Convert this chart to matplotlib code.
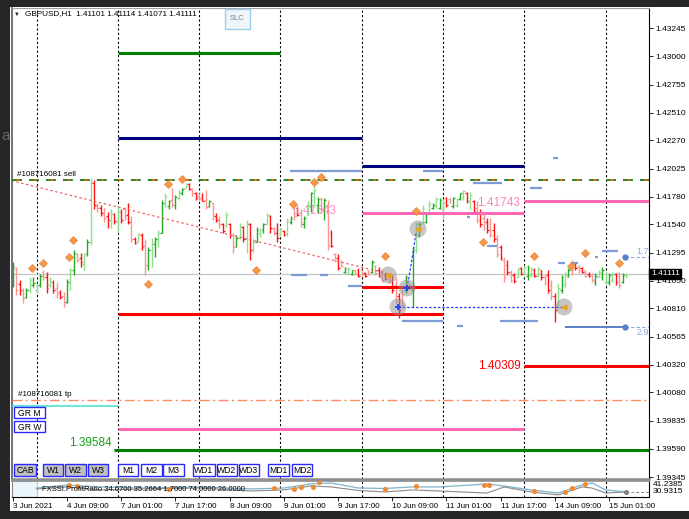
import numpy as np
import pandas as pd
import matplotlib
matplotlib.use('Agg')
import matplotlib.pyplot as plt
from matplotlib.patches import Rectangle

plt.rcParams['font.family'] = ['Liberation Sans', 'DejaVu Sans']

# GBPUSD H1 bars, 3 Jun 2021 17:00 .. 15 Jun 2021 06:00
opens = [1.4101, 1.4116, 1.4102, 1.4097, 1.4091, 1.4097, 1.4101, 1.4097, 1.4101, 1.4113,
         1.4108, 1.4101, 1.4104, 1.4099, 1.4095, 1.4092, 1.4087, 1.4103, 1.4114, 1.4128,
         1.4125, 1.4120, 1.4128, 1.4139, 1.4190, 1.4170, 1.4168, 1.4165, 1.4161, 1.4158,
         1.4163, 1.4156, 1.4165, 1.4167, 1.4162, 1.4156, 1.4141, 1.4139, 1.4145, 1.4135,
         1.4119, 1.4132, 1.4137, 1.4140, 1.4147, 1.4172, 1.4170, 1.4175, 1.4171, 1.4177,
         1.4181, 1.4186, 1.4189, 1.4185, 1.4181, 1.4179, 1.4178, 1.4175, 1.4170, 1.4173,
         1.4161, 1.4158, 1.4154, 1.4153, 1.4154, 1.4145, 1.4135, 1.4142, 1.4152, 1.4141,
         1.4154, 1.4132, 1.4139, 1.4147, 1.4149, 1.4154, 1.4161, 1.4151, 1.4147, 1.4146,
         1.4148, 1.4146, 1.4156, 1.4168, 1.4168, 1.4164, 1.4154, 1.4162, 1.4170, 1.4179,
         1.4171, 1.4176, 1.4167, 1.4171, 1.4147, 1.4128, 1.4125, 1.4122, 1.4113, 1.4112,
         1.4111, 1.4114, 1.4114, 1.4114, 1.4112, 1.4114, 1.4113, 1.4118, 1.4114, 1.4113,
         1.4110, 1.4108, 1.4106, 1.4101, 1.4092, 1.4088, 1.4097, 1.4098, 1.4097, 1.4132,
         1.4145, 1.4156, 1.4156, 1.4167, 1.4168, 1.4170, 1.4168, 1.4167, 1.4177, 1.4176,
         1.4170, 1.4171, 1.4176, 1.4177, 1.4181, 1.4174, 1.4174, 1.4168, 1.4165, 1.4160,
         1.4156, 1.4154, 1.4149, 1.4142, 1.4134, 1.4123, 1.4119, 1.4113, 1.4110, 1.4108,
         1.4116, 1.4111, 1.4109, 1.4110, 1.4114, 1.4109, 1.4114, 1.4108, 1.4110, 1.4101,
         1.4092, 1.4084, 1.4097, 1.4102, 1.4109, 1.4121, 1.4119, 1.4117, 1.4116, 1.4114,
         1.4111, 1.4110, 1.4104, 1.4108, 1.4108, 1.4104, 1.4104, 1.4106, 1.4111, 1.4109,
         1.4104, 1.41101]
highs = [1.4121, 1.4117, 1.4106, 1.4099, 1.4099, 1.4108, 1.4108, 1.4103, 1.4111, 1.4114,
         1.4113, 1.4108, 1.4106, 1.4104, 1.4097, 1.4095, 1.4107, 1.4116, 1.4132, 1.4129,
         1.4129, 1.4129, 1.4141, 1.4194, 1.4193, 1.4173, 1.4171, 1.4168, 1.4165, 1.4167,
         1.4164, 1.4171, 1.4167, 1.4169, 1.4173, 1.4161, 1.4143, 1.4147, 1.4147, 1.4141,
         1.4134, 1.4142, 1.4143, 1.4149, 1.4175, 1.4181, 1.4175, 1.4186, 1.4180, 1.4184,
         1.4186, 1.4190, 1.4190, 1.4186, 1.4182, 1.4181, 1.4181, 1.4184, 1.4175, 1.4173,
         1.4164, 1.4161, 1.4155, 1.4165, 1.4155, 1.4147, 1.4145, 1.4155, 1.4153, 1.4158,
         1.4155, 1.4141, 1.4152, 1.4151, 1.4155, 1.4164, 1.4162, 1.4152, 1.4155, 1.4151,
         1.4149, 1.4160, 1.4161, 1.4171, 1.4169, 1.4167, 1.4161, 1.4174, 1.4182, 1.4188,
         1.4178, 1.4178, 1.4177, 1.4175, 1.4149, 1.4129, 1.4128, 1.4123, 1.4117, 1.4117,
         1.4114, 1.4114, 1.4116, 1.4114, 1.4113, 1.4114, 1.4123, 1.4119, 1.4117, 1.4114,
         1.4112, 1.4110, 1.4110, 1.4108, 1.4094, 1.4100, 1.4110, 1.4103, 1.4134, 1.4156,
         1.4156, 1.4171, 1.4165, 1.4174, 1.4173, 1.4178, 1.4177, 1.4175, 1.4178, 1.4177,
         1.4178, 1.4177, 1.4181, 1.4184, 1.4182, 1.4182, 1.4175, 1.4174, 1.4167, 1.4164,
         1.4160, 1.4160, 1.4155, 1.4145, 1.4136, 1.4126, 1.4123, 1.4114, 1.4112, 1.4116,
         1.4117, 1.4119, 1.4119, 1.4117, 1.4116, 1.4117, 1.4114, 1.4110, 1.4114, 1.4106,
         1.4094, 1.4103, 1.4110, 1.4113, 1.4116, 1.4123, 1.4121, 1.4119, 1.4117, 1.4114,
         1.4113, 1.4112, 1.4112, 1.4114, 1.4117, 1.4113, 1.4112, 1.4113, 1.4112, 1.4113,
         1.4112, 1.41114]
lows = [1.4100, 1.4093, 1.4093, 1.4086, 1.4090, 1.4094, 1.4100, 1.4094, 1.4100, 1.4106,
        1.4094, 1.4100, 1.4094, 1.4090, 1.4089, 1.4082, 1.4086, 1.4097, 1.4110, 1.4121,
        1.4117, 1.4114, 1.4127, 1.4136, 1.4167, 1.4165, 1.4161, 1.4156, 1.4151, 1.4151,
        1.4154, 1.4147, 1.4155, 1.4158, 1.4154, 1.4139, 1.4137, 1.4139, 1.4132, 1.4110,
        1.4114, 1.4117, 1.4126, 1.4134, 1.4147, 1.4168, 1.4167, 1.4169, 1.4167, 1.4175,
        1.4180, 1.4186, 1.4184, 1.4179, 1.4175, 1.4175, 1.4174, 1.4167, 1.4169, 1.4158,
        1.4156, 1.4151, 1.4147, 1.4152, 1.4142, 1.4129, 1.4134, 1.4141, 1.4139, 1.4129,
        1.4123, 1.4130, 1.4139, 1.4143, 1.4147, 1.4154, 1.4147, 1.4145, 1.4139, 1.4144,
        1.4144, 1.4144, 1.4154, 1.4158, 1.4161, 1.4152, 1.4151, 1.4162, 1.4165, 1.4169,
        1.4164, 1.4164, 1.4158, 1.4132, 1.4134, 1.4121, 1.4114, 1.4117, 1.4112, 1.4110,
        1.4110, 1.4110, 1.4108, 1.4109, 1.4108, 1.4110, 1.4112, 1.4110, 1.4108, 1.4104,
        1.4106, 1.4103, 1.4094, 1.4086, 1.4073, 1.4081, 1.4094, 1.4097, 1.4082, 1.4129,
        1.4143, 1.4154, 1.4155, 1.4165, 1.4167, 1.4168, 1.4167, 1.4158, 1.4169, 1.4173,
        1.4168, 1.4169, 1.4175, 1.4175, 1.4173, 1.4167, 1.4164, 1.4155, 1.4152, 1.4149,
        1.4147, 1.4143, 1.4139, 1.4126, 1.4123, 1.4104, 1.4110, 1.4104, 1.4103, 1.4108,
        1.4110, 1.4110, 1.4106, 1.4108, 1.4108, 1.4108, 1.4106, 1.4101, 1.4094, 1.4088,
        1.4069, 1.4081, 1.4094, 1.4100, 1.4108, 1.4110, 1.4114, 1.4112, 1.4112, 1.4108,
        1.4108, 1.4104, 1.4101, 1.4108, 1.4106, 1.4101, 1.4101, 1.4104, 1.4101, 1.4099,
        1.4103, 1.41071]
closes = [1.4118, 1.4097, 1.4097, 1.4090, 1.4097, 1.4106, 1.4103, 1.4101, 1.4109, 1.4108,
          1.4099, 1.4104, 1.4097, 1.4094, 1.4091, 1.4086, 1.4104, 1.4114, 1.4129, 1.4123,
          1.4121, 1.4128, 1.4139, 1.4191, 1.4171, 1.4168, 1.4164, 1.4160, 1.4158, 1.4163,
          1.4157, 1.4165, 1.4158, 1.4161, 1.4156, 1.4141, 1.4138, 1.4146, 1.4134, 1.4119,
          1.4132, 1.4139, 1.4141, 1.4147, 1.4173, 1.4179, 1.4174, 1.4171, 1.4178, 1.4182,
          1.4185, 1.4189, 1.4185, 1.4181, 1.4177, 1.4176, 1.4174, 1.4169, 1.4174, 1.4161,
          1.4158, 1.4154, 1.4148, 1.4162, 1.4145, 1.4134, 1.4142, 1.4153, 1.4141, 1.4155,
          1.4132, 1.4139, 1.4149, 1.4150, 1.4154, 1.4162, 1.4151, 1.4147, 1.4142, 1.4150,
          1.4145, 1.4158, 1.4160, 1.4161, 1.4162, 1.4156, 1.4160, 1.4172, 1.4181, 1.4184,
          1.4176, 1.4167, 1.4175, 1.4136, 1.4135, 1.4122, 1.4116, 1.4118, 1.4116, 1.4115,
          1.4114, 1.4111, 1.4109, 1.4110, 1.4109, 1.4111, 1.4121, 1.4112, 1.4109, 1.4106,
          1.4107, 1.4104, 1.4097, 1.4088, 1.4080, 1.4084, 1.4108, 1.4101, 1.4132, 1.4154,
          1.4154, 1.4168, 1.4163, 1.4172, 1.4171, 1.4176, 1.4175, 1.4173, 1.4171, 1.4174,
          1.4177, 1.4176, 1.4181, 1.4183, 1.4174, 1.4180, 1.4166, 1.4158, 1.4154, 1.4151,
          1.4149, 1.4145, 1.4141, 1.4128, 1.4125, 1.4108, 1.4113, 1.4106, 1.4105, 1.4114,
          1.4111, 1.4117, 1.4116, 1.4115, 1.4109, 1.4115, 1.4108, 1.4103, 1.4097, 1.4092,
          1.4080, 1.4099, 1.4108, 1.4110, 1.4114, 1.4114, 1.4116, 1.4114, 1.4113, 1.4109,
          1.4109, 1.4106, 1.4109, 1.4113, 1.4114, 1.4111, 1.4110, 1.4111, 1.4104, 1.4101,
          1.4110, 1.41111]

price_ticks = [1.43245, 1.43000, 1.42755, 1.42510, 1.42270, 1.42025, 1.41780, 1.41540, 1.41295,
               1.41050, 1.40810, 1.40565, 1.40320, 1.40080, 1.39835, 1.39590, 1.39345]

# horizontal objects: price, first bar, last bar (None = to chart edge)
sell_price = 1.41927
tp_price = 1.40012
green_levels = [(1.43033, 31, 79), (1.39584, 30, None)]
navy_levels = [(1.42292, 31, 103), (1.42048, 103, 151)]
pink_levels = [(1.41643, 103, 151), (1.41743, 151, None), (1.39765, 31, 151)]
red_levels = [(1.40996, 103, 127), (1.40762, 31, 127), (1.40309, 151, None)]
cyan_levels = [(1.39965, None, 31)]
trend_line = [(-0.4, 1.4192), (111.0, 1.4111)]

# light blue short segments (bar from, bar to, price)
blue_marks = [(81.9, 103.1, 1.42005), (121, 127, 1.42005), (135.9, 144.4, 1.41901),
              (152.7, 156.2, 1.41857), (159.5, 161, 1.42118), (134, 135, 1.41605),
              (140, 143, 1.41353), (82, 86.9, 1.41101), (90.7, 93, 1.41101),
              (99, 103.1, 1.41005), (161, 163, 1.41205), (165, 166.8, 1.41205),
              (173.9, 178.7, 1.41310), (171.9, 172.8, 1.41257), (114.9, 127, 1.40702),
              (131, 133, 1.40658), (143.8, 155, 1.40702)]

# fractal diamonds (bar, price)
fractal_x = [5.7, 8.9, 16.6, 17.8, 39.9, 45.8, 49.9, 71.8, 82.7, 88.9, 91.0,
             109.9, 119.0, 138.8, 153.9, 164.8, 168.9, 178.9]
fractal_y = [1.41162, 1.41205, 1.41257, 1.41405, 1.41023, 1.41892, 1.41936, 1.41145, 1.41718,
             1.41909, 1.41953, 1.41266, 1.41657, 1.41388, 1.41266, 1.41179, 1.41292, 1.41205]

# trade markers
trade_x = [110.8, 116.4, 119.6, 113.7, 162.7]
trade_y = [1.41101, 1.40988, 1.41501, 1.40823, 1.40823]

# FXSSI ProfitRatio sub window
sub_idx = [7, 16, 26, 38, 55, 70, 80, 88, 94, 102, 110, 118, 126, 140, 145, 153, 161, 168, 171, 175, 181]
ratio_blue = [36.8, 39.0, 37.6, 36.8, 37.6, 36.1, 36.8, 39.8, 40.5, 36.8, 36.5, 37.6, 37.6, 39.8,
              38.3, 35.4, 33.1, 39.0, 40.5, 35.4, 33.9]
ratio_gray = [36.1, 37.6, 35.4, 36.1, 36.8, 34.6, 35.4, 38.3, 37.6, 35.0, 33.9, 35.4, 34.6, 33.1,
              37.6, 33.9, 31.7, 37.6, 36.8, 33.1, 33.9]
ratio_dot_x = [16.5, 19, 46, 77, 83, 85, 88.5, 90.5, 110, 119, 139, 140.5, 154, 163, 165, 169]
ratio_dot_y = [39.3, 38.5, 36.1, 36.8, 36.1, 37.6, 37.6, 41.0, 36.1, 38.3, 39.0, 39.0, 34.6, 33.9, 36.8, 39.8]

times = pd.date_range('2021-06-03 17:00', '2021-06-15 06:00', freq='h')
times = times[times.dayofweek < 5]

W, H = 689, 519


def fx(px):
    return px / W


def fy(py):
    return 1 - py / H


fig = plt.figure(figsize=(W / 100, H / 100), dpi=100, facecolor='#262628')
fig.add_artist(Rectangle((fx(10), fy(511)), fx(689) - fx(10), fy(7) - fy(511),
                         transform=fig.transFigure, facecolor='white', edgecolor='none', zorder=-5))
fig.text(fx(1), fy(136), 'a', fontsize=11, color='#6a6a6a', va='center')

ax = fig.add_axes([fx(11.5), fy(479), fx(649) - fx(11.5), fy(8) - fy(479)])
sub = fig.add_axes([fx(11.5), fy(497), fx(649) - fx(11.5), fy(481) - fy(497)])
ax.set_xlim(-0.38, 187.8)
ax.set_ylim(1.39328, 1.43421)
x_end = ax.get_xlim()[1]
x_start = ax.get_xlim()[0]

# bars
idx = np.arange(len(closes))
up = np.array(closes) >= np.array(opens)
pale = idx % 2 == 1
cols = np.where(up, np.where(pale, '#8fdf8f', '#22aa22'), np.where(pale, '#ff9494', '#ff1414'))
ax.vlines(idx, lows, highs, colors=cols, lw=1.0, zorder=2)
ax.hlines(opens, idx - 0.5, idx, colors=cols, lw=0.9, zorder=2)
ax.hlines(closes, idx, idx + 0.5, colors=cols, lw=0.9, zorder=2)

# day separators
day_starts = np.where(times.hour == 0)[0]
for d in day_starts:
    for a in (ax, sub):
        a.axvline(d, color='black', lw=0.8, ls=(0, (2, 2)), zorder=1)

# current price line
ax.axhline(closes[-1], color='#c4c4c4', lw=0.9, zorder=1)

# trend line
ax.plot([p[0] for p in trend_line], [p[1] for p in trend_line], color='#f06868', lw=0.9,
        ls=(0, (2, 2)), zorder=3)


def span(a, b):
    return (x_start if a is None else a), (x_end if b is None else b)


for levels, color, lw in [(green_levels, '#008000', 2.2), (navy_levels, '#000080', 2.2),
                          (pink_levels, '#ff69b4', 2.2), (red_levels, '#ff0000', 2.2),
                          (cyan_levels, '#40e0d0', 1.1)]:
    for price, a, b in levels:
        x0, x1 = span(a, b)
        ax.hlines(price, x0, x1, colors=color, lw=lw, zorder=4)

# order lines
ax.axhline(sell_price, color='#1d7a1d', lw=1.3, ls=(0, (5.5, 3.9)), zorder=4)
ax.axhline(sell_price, color='#ff6a00', lw=1.3, ls=(6.8, (1.4, 8.0)), zorder=4)
ax.axhline(tp_price, color='#ff8c60', lw=1.0, ls=(0, (7, 2.5, 1.5, 2.5)), zorder=4)
ax.text(1.2, 1.41970, '#108716081 sell', fontsize=5.8, va='center', zorder=6)
ax.text(1.5, 1.40058, '#108716081 tp', fontsize=5.8, va='center', zorder=6)

# level labels
ax.text(95.4, 1.41657, '1.41643', fontsize=8.5, color='#ff69b4', alpha=0.75, ha='right', va='center', zorder=6)
ax.text(149.7, 1.41727, '1.41743', fontsize=8.5, color='#ff69b4', alpha=0.85, ha='right', va='center', zorder=6)
ax.text(150.0, 1.40309, '1.40309', fontsize=8.5, color='#ff0000', ha='right', va='center', zorder=6)
ax.text(29.3, 1.39641, '1.39584', fontsize=8.5, color='#16a016', ha='right', va='center', zorder=6)

# light blue marks
for a, b, price in blue_marks:
    ax.hlines(price, a, b, colors='#7f9bd6', lw=1.6, zorder=4)

# right side ratio markers
ax.hlines(1.40652, 163, 180.7, colors='#5b7fc8', lw=1.4, zorder=4)
ax.hlines([1.41257, 1.40652], 180.7, x_end, colors='#8aa8e0', lw=0.8, ls=(0, (3, 2)), zorder=4)
ax.plot([180.7, 180.7], [1.41257, 1.40652], 'o', ms=3.5, color='#5b7fc8', zorder=5)
ax.text(184.0, 1.41305, '1.7', fontsize=6.5, color='#8aa3dc', va='center', zorder=6)
ax.text(184.0, 1.40600, '2.9', fontsize=6.5, color='#8aa3dc', va='center', zorder=6)

# fractals
ax.plot(fractal_x, fractal_y, 'D', ms=3.6, color='#f59a4c', mec='#ee8030', mew=0.5, zorder=5)

# trades
ax.plot([113.7, 162.7], [1.40823, 1.40823], color='#1f3fff', lw=0.9, ls=(0, (2, 1.5)), zorder=5)
ax.plot([116.4, 117.3, 119.0], [1.40988, 1.4114, 1.4146], color='#1f3fff', lw=0.9, ls=(0, (2, 1.5)), zorder=5)
ax.scatter(trade_x, trade_y, s=150, color='#909090', alpha=0.5, edgecolors='none', zorder=6)
ax.plot([110.8, 119.6, 162.7], [1.41101, 1.41501, 1.40823], '<', ms=3.5, color='#f0a020', zorder=7)
ax.plot([116.4, 113.7], [1.40988, 1.40823], '+', ms=5, mew=1.3, color='#1f3fff', zorder=7)

# price axis
ax.yaxis.tick_right()
ax.set_yticks(price_ticks)
ax.set_yticklabels(['%.5f' % p for p in price_ticks])
ax.tick_params(axis='y', length=3, width=0.6, pad=1.5, labelsize=6)
ax.set_xticks([])
ax.spines['right'].set_color('black')
ax.spines['right'].set_linewidth(0.8)
ax.spines['left'].set_color('#5a5a5a')
ax.spines['left'].set_linewidth(1.2)
ax.spines['top'].set_color('#a0a0a0')
ax.spines['top'].set_linewidth(0.8)
ax.spines['bottom'].set_color('#8c8c8c')
ax.spines['bottom'].set_linewidth(1.8)
ax.text(1.003, closes[-1], '%.5f' % closes[-1], transform=ax.get_yaxis_transform(), fontsize=6,
        color='white', va='center', ha='left', zorder=8,
        bbox=dict(boxstyle='square,pad=0.2', facecolor='black', edgecolor='black'))

# sub window
sub.set_xlim(ax.get_xlim())
sub.set_ylim(30.19, 41.98)
sub.plot(sub_idx, ratio_blue, color='#7fb3cc', lw=0.9, zorder=3)
sub.plot(sub_idx, ratio_gray, color='#8a8a8a', lw=0.8, zorder=3)
sub.plot(ratio_dot_x, ratio_dot_y, 'o', ms=2.6, color='#f08a30', zorder=4)
sub.hlines(ratio_gray[-1], sub_idx[-1], x_end, colors='#8a8a8a', lw=0.7, ls=(0, (3, 2)))
sub.plot(sub_idx[-1], ratio_gray[-1], 'o', ms=2.6, color='#808080', zorder=4)
sub.add_patch(Rectangle((0, 0), fx(37 - 12) / (fx(649) - fx(11.5)), 1, transform=sub.transAxes,
                        facecolor='#eaf6fb', edgecolor='#9fd4ea', lw=0.8, zorder=2))
sub.text(0.048, 0.45, 'FXSSI.ProfitRatio 34.6700 35.2664 1.7000 74.0000 26.0000',
         transform=sub.transAxes, fontsize=5.5, va='center', zorder=5)
sub.set_yticks([])
sub.text(1.006, 0.78, '41.2385', transform=sub.transAxes, fontsize=6, va='center')
sub.text(1.006, 0.36, '30.9315', transform=sub.transAxes, fontsize=6, va='center')
tick_idx = list(range(0, len(times), 16))
tick_lbl = ['%d %s' % (times[i].day, times[i].strftime('%b %H:%M')) for i in tick_idx]
tick_lbl[0] = '%d %s' % (times[0].day, times[0].strftime('%b %Y'))
sub.set_xticks(tick_idx)
sub.set_xticklabels(tick_lbl, ha='left', fontsize=5.8)
sub.tick_params(axis='x', length=3, width=0.6, pad=1.2)
for s in ('top', 'left'):
    sub.spines[s].set_color('#8c8c8c')
sub.spines['top'].set_linewidth(1.2)
sub.spines['bottom'].set_color('black')
sub.spines['right'].set_color('black')
sub.spines['bottom'].set_linewidth(0.8)
sub.spines['right'].set_linewidth(0.8)

# overlay: header and buttons in screen pixels
ov = fig.add_axes([0, 0, 1, 1], zorder=10)
ov.set_xlim(0, W)
ov.set_ylim(H, 0)
ov.axis('off')
ov.patch.set_visible(False)
ov.text(14, 14, '▼', fontsize=4.2, va='center', color='#202020')
ov.text(25, 14, 'GBPUSD,H1  %.5f %.5f %.5f %.5f' % (opens[-1], highs[-1], lows[-1], closes[-1]),
        fontsize=5.9, va='center')

ov.add_patch(Rectangle((225, 9), 25, 20, facecolor='#eef6fb', edgecolor='#9fd0ea', lw=1))
ov.text(237.5, 19, 'SLC', fontsize=5.5, color='#808080', ha='center', va='center')

buttons = [('CAB', 14, 36, True), ('W1', 43, 63, True), ('W2', 65, 86, True), ('W3', 88, 108, True),
           ('M1', 118, 138, False), ('M2', 141, 162, False), ('M3', 163, 184, False),
           ('WD1', 193, 215, False), ('WD2', 217, 237, False), ('WD3', 239, 259, False),
           ('MD1', 268, 289, False), ('MD2', 292, 312, False)]
for name, x0, x1, grey in buttons:
    ov.add_patch(Rectangle((x0, 464), x1 - x0, 12, facecolor='#c0c0c0' if grey else 'white',
                           edgecolor='#2a2aff', lw=1))
    ov.text((x0 + x1) / 2, 470.5, name, fontsize=6.2, ha='center', va='center')
for name, y0 in [('GR M', 407), ('GR W', 421)]:
    ov.add_patch(Rectangle((14, y0), 31, 11, facecolor='white', edgecolor='#2a2aff', lw=1))
    ov.text(29.5, y0 + 6, name, fontsize=6.2, ha='center', va='center')

fig.savefig('out.png', dpi=100, facecolor=fig.get_facecolor())
